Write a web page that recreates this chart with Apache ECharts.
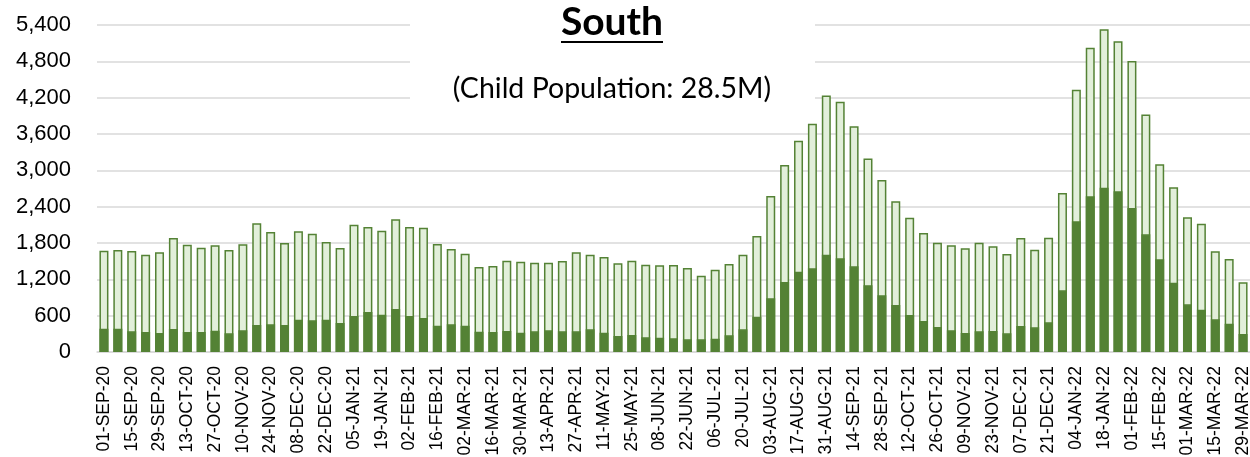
<!DOCTYPE html>
<html>
<head>
<meta charset="utf-8">
<title>South</title>
<script src="https://cdn.jsdelivr.net/npm/echarts@6/dist/echarts.min.js"></script>
<style>
  html, body { margin: 0; padding: 0; background: #fff; }
  #chart { width: 1250px; height: 457px; }
</style>
</head>
<body>
<div id="chart"></div>
<script>
// 每周日期（第一周起）
const weeks = [
  '01-SEP-20', '08-SEP-20', '15-SEP-20', '22-SEP-20', '29-SEP-20',
  '06-OCT-20', '13-OCT-20', '20-OCT-20', '27-OCT-20',
  '03-NOV-20', '10-NOV-20', '17-NOV-20', '24-NOV-20',
  '01-DEC-20', '08-DEC-20', '15-DEC-20', '22-DEC-20', '29-DEC-20',
  '05-JAN-21', '12-JAN-21', '19-JAN-21', '26-JAN-21',
  '02-FEB-21', '09-FEB-21', '16-FEB-21', '23-FEB-21',
  '02-MAR-21', '09-MAR-21', '16-MAR-21', '23-MAR-21', '30-MAR-21',
  '06-APR-21', '13-APR-21', '20-APR-21', '27-APR-21',
  '04-MAY-21', '11-MAY-21', '18-MAY-21', '25-MAY-21',
  '01-JUN-21', '08-JUN-21', '15-JUN-21', '22-JUN-21', '29-JUN-21',
  '06-JUL-21', '13-JUL-21', '20-JUL-21', '27-JUL-21',
  '03-AUG-21', '10-AUG-21', '17-AUG-21', '24-AUG-21', '31-AUG-21',
  '07-SEP-21', '14-SEP-21', '21-SEP-21', '28-SEP-21',
  '05-OCT-21', '12-OCT-21', '19-OCT-21', '26-OCT-21',
  '02-NOV-21', '09-NOV-21', '16-NOV-21', '23-NOV-21', '30-NOV-21',
  '07-DEC-21', '14-DEC-21', '21-DEC-21', '28-DEC-21',
  '04-JAN-22', '11-JAN-22', '18-JAN-22', '25-JAN-22',
  '01-FEB-22', '08-FEB-22', '15-FEB-22', '22-FEB-22',
  '01-MAR-22', '08-MAR-22', '15-MAR-22', '22-MAR-22', '29-MAR-22'
]

// 总数（浅色柱，外框）
const totalValues = [
  1673, 1685, 1668, 1607, 1646, 1883, 1773, 1723, 1762, 1685,
  1778, 2125, 1982, 1800, 1993, 1954, 1817, 1718, 2103, 2064,
  2004, 2191, 2064, 2053, 1784, 1701, 1624, 1404, 1420, 1508,
  1492, 1475, 1475, 1503, 1646, 1607, 1569, 1464, 1508, 1442,
  1431, 1437, 1387, 1261, 1360, 1453, 1607, 1916, 2576, 3088,
  3490, 3771, 4237, 4134, 3730, 3195, 2841, 2488, 2219, 1965,
  1806, 1762, 1712, 1806, 1745, 1618, 1883, 1690, 1888, 2626,
  4332, 5026, 5329, 5131, 4806, 3920, 3099, 2719, 2224, 2119,
  1662, 1536, 1151
]

// 深色部分
const darkValues = [
  385, 385, 341, 330, 314, 380, 330, 330, 352, 308,
  358, 446, 457, 446, 534, 523, 534, 479, 595, 661,
  617, 710, 595, 562, 435, 457, 435, 336, 330, 347,
  319, 341, 358, 341, 341, 374, 319, 264, 281, 242,
  237, 226, 209, 209, 220, 275, 374, 584, 886, 1156,
  1327, 1382, 1607, 1547, 1415, 1104, 936, 776, 611, 512,
  413, 358, 314, 341, 347, 308, 429, 407, 490, 1018,
  2158, 2571, 2714, 2653, 2378, 1943, 1530, 1145, 787, 699,
  540, 468, 297
]

const yTicks = { min: 0, max: 5400, interval: 600 }

const titleText = 'South'
const subtitleText = '(Child Population: 28.5M)'

const axisFont = "'Liberation Sans', Arial, sans-serif"
const darkGreen = '#548235'
const lightGreen = '#e2efda'

const chart = echarts.init(document.getElementById('chart'))

const option = {
  animation: false,
  backgroundColor: '#fff',
  grid: {
    left: 97,
    right: 0,
    top: 25,
    bottom: 105,
    containLabel: false,
    outerBoundsMode: 'none'
  },
  xAxis: {
    type: 'category',
    data: weeks,
    axisLine: { lineStyle: { color: '#d9d9d9', width: 1.5 } },
    axisTick: { show: false },
    axisLabel: {
      interval: 1,
      rotate: 90,
      margin: 14,
      color: '#000',
      fontFamily: axisFont,
      fontSize: 17.5
    }
  },
  yAxis: {
    type: 'value',
    min: yTicks.min,
    max: yTicks.max,
    interval: yTicks.interval,
    axisLine: { show: false },
    axisTick: { show: false },
    splitLine: { lineStyle: { color: '#d9d9d9', width: 1.5 } },
    axisLabel: {
      margin: 26,
      color: '#000',
      fontFamily: axisFont,
      fontSize: 22,
      formatter: v => v.toLocaleString('en-US')
    }
  },
  graphic: [
    // 标题背后的白底，遮住网格线
    {
      type: 'rect',
      z: 1,
      shape: { x: 410, y: 0, width: 405, height: 115 },
      style: { fill: '#fff' }
    },
    {
      type: 'text',
      z: 3,
      x: 612,
      y: 22,
      style: {
        text: titleText,
        fill: '#000',
        font: "bold 39px Lato, 'Open Sans', sans-serif",
        textAlign: 'center',
        textVerticalAlign: 'middle'
      }
    },
    // 下划线
    {
      type: 'line',
      z: 3,
      shape: { x1: 561, y1: 42, x2: 663, y2: 42 },
      style: { stroke: '#000', lineWidth: 2 }
    },
    {
      type: 'text',
      z: 3,
      x: 612,
      y: 89,
      style: {
        text: subtitleText,
        fill: '#000',
        font: "28.5px Lato, 'Open Sans', sans-serif",
        textAlign: 'center',
        textVerticalAlign: 'middle'
      }
    }
  ],
  series: [
    {
      name: 'Total',
      type: 'bar',
      barWidth: 9,
      barGap: '-100%',
      itemStyle: {
        color: lightGreen,
        borderColor: darkGreen,
        borderWidth: 1.5
      },
      data: totalValues
    },
    {
      name: 'Dark',
      type: 'bar',
      barWidth: 9,
      barGap: '-100%',
      itemStyle: {
        color: darkGreen,
        borderColor: darkGreen,
        borderWidth: 1.5
      },
      data: darkValues
    }
  ]
}

chart.setOption(option)

window.addEventListener('resize', () => chart.resize())
</script>
</body>
</html>
